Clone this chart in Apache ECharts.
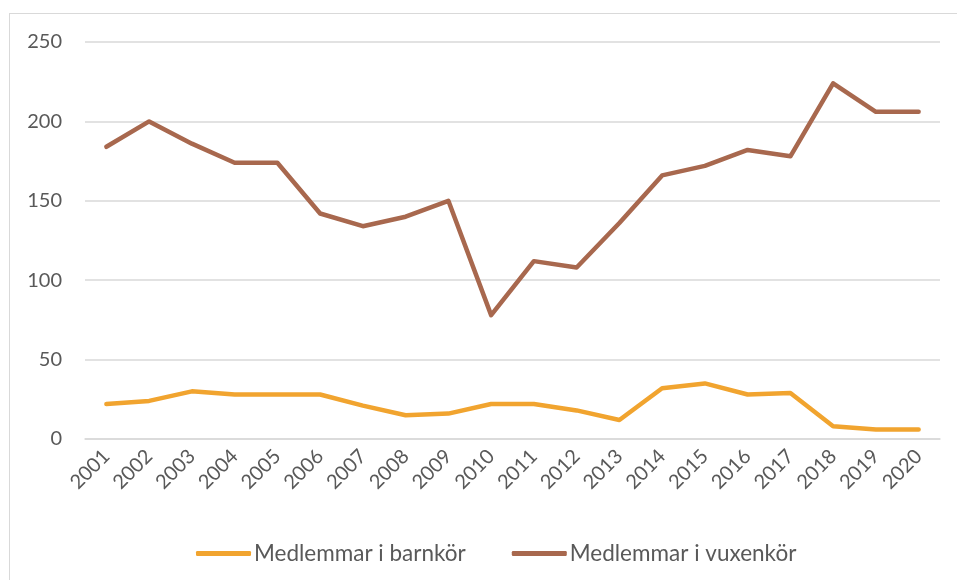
<!DOCTYPE html>
<html>
<head>
<meta charset="utf-8">
<script src="https://cdn.jsdelivr.net/npm/echarts@6/dist/echarts.min.js"></script>
<style>
    html, body { margin: 0; padding: 0; background: #fff; }
    .frame {
        position: absolute;
        left: 9px;
        top: 13px;
        width: 1000px;
        height: 700px;
        border: 1px solid #d9d9d9;
    }
    #chart { position: absolute; left: 0; top: 0; width: 957px; height: 580px; }
</style>
</head>
<body>
<div class="frame"></div>
<div id="chart"></div>
<script>
var years = ['2001', '2002', '2003', '2004', '2005', '2006', '2007', '2008', '2009', '2010',
    '2011', '2012', '2013', '2014', '2015', '2016', '2017', '2018', '2019', '2020'];
var barnkor = [22, 24, 30, 28, 28, 28, 21, 15, 16, 22, 22, 18, 12, 32, 35, 28, 29, 8, 6, 6];
var vuxenkor = [184, 200, 186, 174, 174, 142, 134, 140, 150, 78, 112, 108, 136, 166, 172, 182, 178, 224, 206, 206];
var yTicks = [0, 50, 100, 150, 200, 250];

var colorMap = ['#f1a42f', '#a8684e'];
var font = 'Lato, "Open Sans", sans-serif';

var myChart = echarts.init(document.getElementById('chart'));

function line(name, data, index) {
    return {
        name: name,
        type: 'line',
        data: data,
        symbol: 'none',
        lineStyle: { color: colorMap[index], width: 4.5, cap: 'round', join: 'round' },
        itemStyle: { color: colorMap[index] }
    };
}

var option = {
    animation: false,
    grid: {
        left: 85,
        right: 17,
        top: 42,
        bottom: 141
    },
    legend: {
        top: 537,
        left: 191,
        icon: 'roundRect',
        itemWidth: 55,
        itemHeight: 5,
        itemGap: 46,
        textStyle: { color: '#595959', fontSize: 22.5, fontFamily: font, padding: [0, 0, 0, -2] },
        data: ['Medlemmar i barnkör', 'Medlemmar i vuxenkör']
    },
    xAxis: {
        type: 'category',
        data: years,
        boundaryGap: true,
        axisLine: { show: true, lineStyle: { color: '#d9d9d9', width: 1.5 } },
        axisTick: { show: false },
        axisLabel: {
            color: '#595959',
            fontSize: 20,
            fontFamily: font,
            rotate: 45,
            margin: 14,
            interval: 0
        }
    },
    yAxis: {
        type: 'value',
        min: yTicks[0],
        max: yTicks[yTicks.length - 1],
        interval: 50,
        axisLine: { show: false },
        axisTick: { show: false },
        axisLabel: { color: '#595959', fontSize: 20, fontFamily: font, margin: 23 },
        splitLine: { lineStyle: { color: '#d9d9d9', width: 1.5 } }
    },
    series: [
        line('Medlemmar i barnkör', barnkor, 0),
        line('Medlemmar i vuxenkör', vuxenkor, 1)
    ]
};
myChart.setOption(option);
</script>
</body>
</html>
